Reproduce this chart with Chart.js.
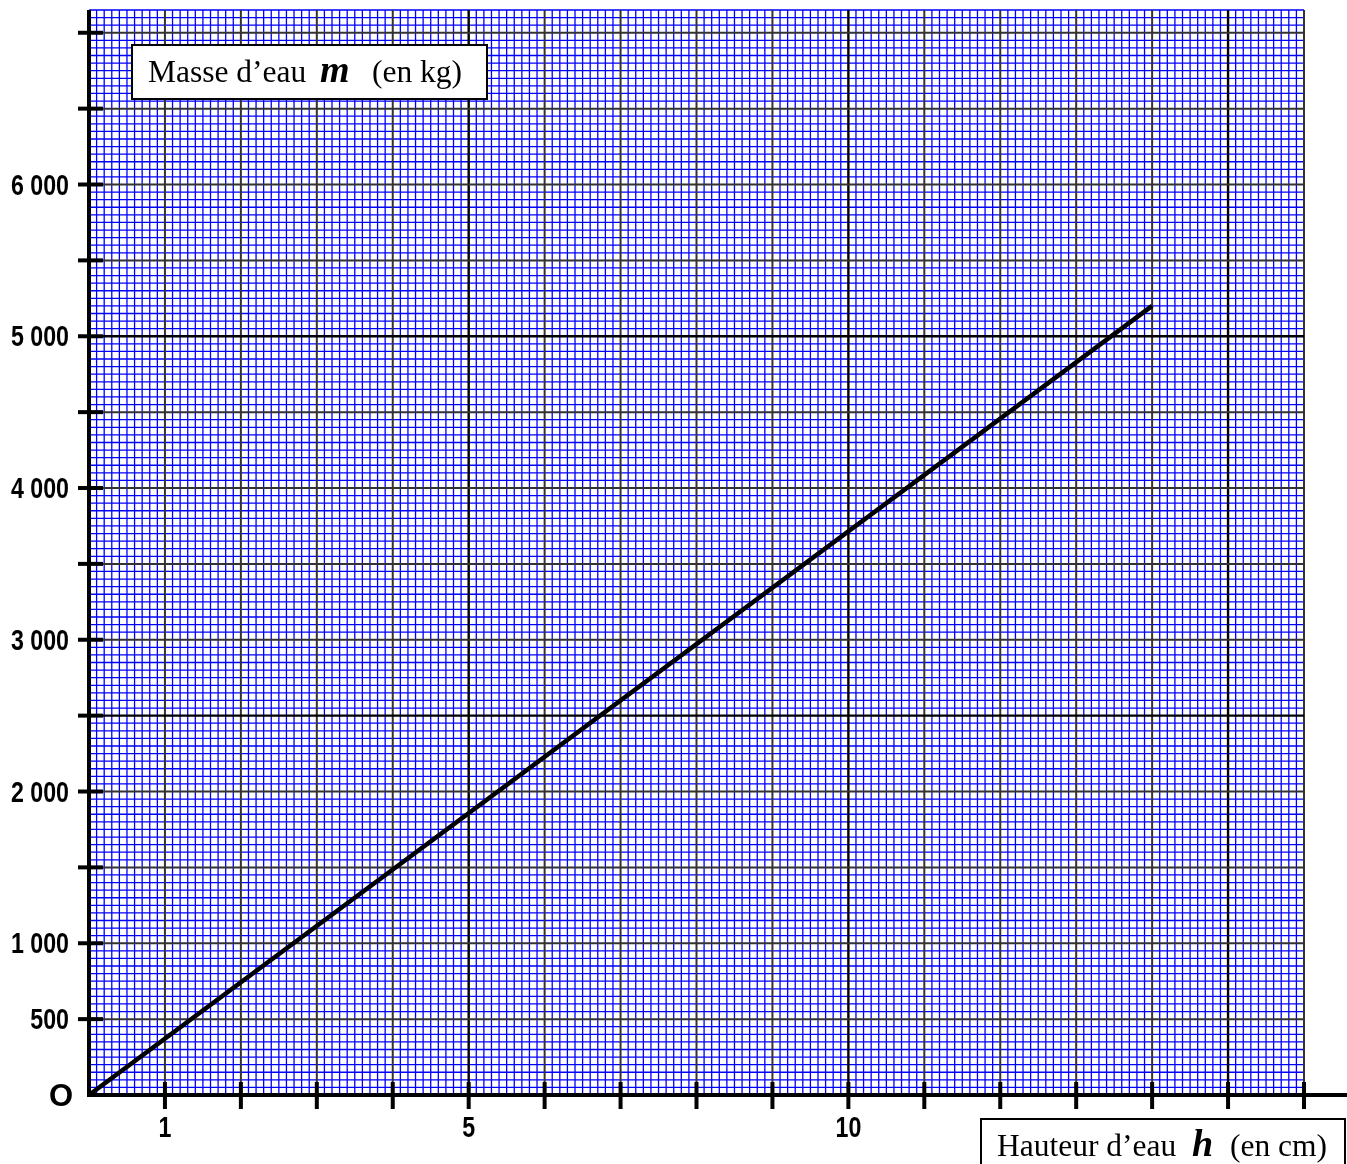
<!DOCTYPE html>
<html><head><meta charset="utf-8">
<script src="https://cdn.jsdelivr.net/npm/chart.js@4"></script>
<style>html,body{margin:0;padding:0;background:#fff;overflow:hidden}canvas{display:block}</style>
</head><body>
<canvas id="c" width="1347" height="1164" style="width:1347px;height:1164px"></canvas>
<script>
// ---- data ----
const heights = [0, 14];          // h (cm)
const masses = [0, 5200];         // m (kg)
const xRange = [0, 16];
const yRange = [0, 7150];
const xTickMarks = [1, 2, 3, 4, 5, 6, 7, 8, 9, 10, 11, 12, 13, 14, 15, 16];
const xLabelValues = [1, 5, 10];
const xLabelTexts = ['1', '5', '10'];
const yTickMarks = [500, 1000, 1500, 2000, 2500, 3000, 3500, 4000, 4500, 5000, 5500, 6000, 6500, 7000];
const yLabelValues = [500, 1000, 2000, 3000, 4000, 5000, 6000];
const yLabelTexts = ['500', '1 000', '2 000', '3 000', '4 000', '5 000', '6 000'];
const originLabel = 'O';
const yTitle = ['Masse d\u2019eau', 'm', '(en kg)'];
const xTitle = ['Hauteur d\u2019eau', 'h', '(en cm)'];

const points = heights.map((h, i) => ({x: h, y: masses[i]}));

const NARROW = 0.8;
function narrowText(ctx, text, px, py, align) {
  ctx.save();
  ctx.translate(px, py);
  ctx.scale(NARROW, 1);
  ctx.textAlign = align;
  ctx.fillText(text, 0, 0);
  ctx.restore();
}

const paper = {
  id: 'paper',
  beforeDatasetsDraw(chart) {
    const {ctx, chartArea: a, scales: {x, y}} = chart;
    ctx.save();
    // minor (millimetre) grid, from the scales' own ticks
    ctx.strokeStyle = '#0000ff';
    ctx.lineWidth = 1.3;
    ctx.beginPath();
    for (const t of x.ticks) {
      if (Math.round(t.value * 10) % 10 === 0) continue;
      const px = x.getPixelForValue(t.value);
      ctx.moveTo(px, a.top); ctx.lineTo(px, a.bottom);
    }
    for (const t of y.ticks) {
      if (Math.round(t.value) % 500 === 0) continue;
      const py = y.getPixelForValue(t.value);
      ctx.moveTo(a.left, py); ctx.lineTo(a.right, py);
    }
    ctx.stroke();
    // centimetre grid
    for (const v of xTickMarks) {
      const px = x.getPixelForValue(v);
      const heavy = v % 5 === 0;
      ctx.strokeStyle = heavy ? '#000' : '#333333';
      ctx.lineWidth = heavy ? 2.4 : 2;
      ctx.beginPath(); ctx.moveTo(px, a.top); ctx.lineTo(px, a.bottom); ctx.stroke();
    }
    for (const v of yTickMarks) {
      const py = y.getPixelForValue(v);
      const heavy = v % 2500 === 0;
      ctx.strokeStyle = heavy ? '#000' : '#333333';
      ctx.lineWidth = heavy ? 2.4 : 2;
      ctx.beginPath(); ctx.moveTo(a.left, py); ctx.lineTo(a.right, py); ctx.stroke();
    }
    ctx.restore();
  },
  afterDatasetsDraw(chart) {
    const {ctx, chartArea: a, scales: {x, y}, width} = chart;
    const x0 = x.getPixelForValue(0), y0 = y.getPixelForValue(0);
    ctx.save();
    ctx.strokeStyle = '#000';
    ctx.lineWidth = 4;
    ctx.lineCap = 'butt';
    // axes
    ctx.beginPath(); ctx.moveTo(x0, a.top); ctx.lineTo(x0, y0 + 2); ctx.stroke();
    ctx.beginPath(); ctx.moveTo(x0 - 2, y0); ctx.lineTo(width, y0); ctx.stroke();
    // tick marks
    for (const v of xTickMarks) {
      const px = x.getPixelForValue(v);
      ctx.beginPath(); ctx.moveTo(px, y0 - 13); ctx.lineTo(px, y0 + 14); ctx.stroke();
    }
    for (const v of yTickMarks) {
      const py = y.getPixelForValue(v);
      ctx.beginPath(); ctx.moveTo(x0 - 11, py); ctx.lineTo(x0 + 14, py); ctx.stroke();
    }
    // labels
    ctx.fillStyle = '#000';
    ctx.font = 'bold 29px "Liberation Sans", Arial, sans-serif';
    ctx.textBaseline = 'middle';
    yLabelValues.forEach((v, i) => narrowText(ctx, yLabelTexts[i], x0 - 20, y.getPixelForValue(v) + 2, 'right'));
    xLabelValues.forEach((v, i) => narrowText(ctx, xLabelTexts[i], x.getPixelForValue(v), y0 + 34, 'center'));
    ctx.font = 'bold 31px "Liberation Sans", Arial, sans-serif';
    ctx.textAlign = 'center';
    ctx.fillText(originLabel, x0 - 28, y0 + 2);
    ctx.restore();
  },
  afterDraw(chart) {
    const {ctx} = chart;
    ctx.save();
    const box = (l, t, r, b) => {
      ctx.fillStyle = '#fff'; ctx.fillRect(l, t, r - l, b - t);
      ctx.strokeStyle = '#000'; ctx.lineWidth = 2; ctx.strokeRect(l, t, r - l, b - t);
      ctx.fillStyle = '#000';
    };
    const reg = '31.5px "Liberation Serif", "Times New Roman", serif';
    const bi = 'bold italic 38px "Liberation Serif", "Times New Roman", serif';
    ctx.textAlign = 'left'; ctx.textBaseline = 'alphabetic';
    box(132, 45, 487, 99);
    ctx.font = reg; ctx.fillText(yTitle[0], 148, 82);
    ctx.font = bi; ctx.fillText(yTitle[1], 320, 82);
    ctx.font = reg; ctx.fillText(yTitle[2], 372, 82);
    box(981, 1119, 1345, 1172);
    ctx.font = reg; ctx.fillText(xTitle[0], 997, 1156);
    ctx.font = bi; ctx.fillText(xTitle[1], 1192, 1156);
    ctx.font = reg; ctx.fillText(xTitle[2], 1230, 1156);
    ctx.restore();
  }
};

new Chart(document.getElementById('c'), {
  type: 'scatter',
  data: {datasets: [{data: points, showLine: true, borderColor: '#000', borderWidth: 4.5, pointRadius: 0, pointHoverRadius: 0, fill: false}]},
  options: {
    responsive: false, animation: false, devicePixelRatio: 1,
    layout: {padding: {left: 89, right: 43, top: 10, bottom: 69}},
    plugins: {legend: {display: false}, tooltip: {enabled: false}},
    events: [],
    scales: {
      x: {
        type: 'linear', min: xRange[0], max: xRange[1],
        ticks: {display: false, stepSize: 0.1, autoSkip: false},
        border: {display: false},
        grid: {display: false, drawTicks: false}
      },
      y: {
        type: 'linear', min: yRange[0], max: yRange[1],
        ticks: {display: false, stepSize: 50, autoSkip: false},
        border: {display: false},
        grid: {display: false, drawTicks: false}
      }
    }
  },
  plugins: [paper]
});
</script>
</body></html>
